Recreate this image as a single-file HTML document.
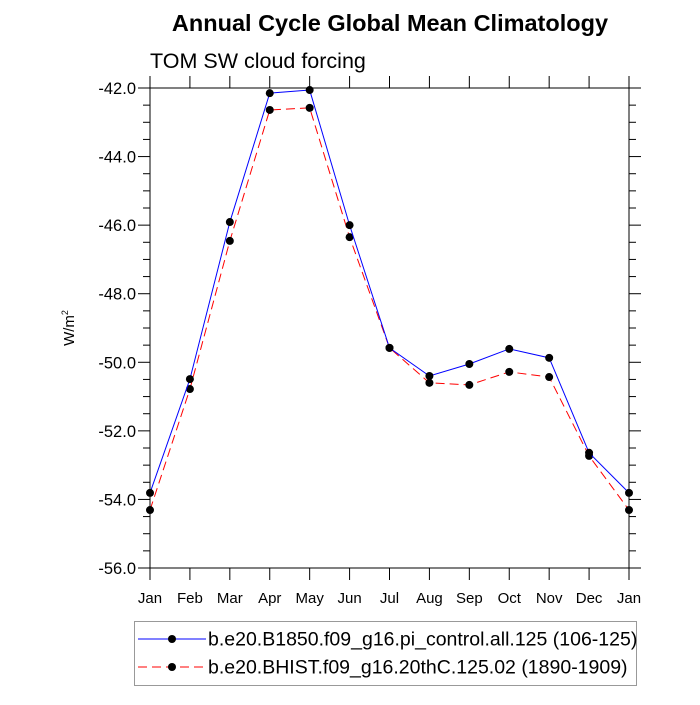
<!DOCTYPE html>
<html><head><meta charset="utf-8"><style>
body{margin:0;background:#fff}
svg text{font-family:"Liberation Sans",sans-serif}
</style></head><body>
<svg id="chart" width="700" height="700" xmlns="http://www.w3.org/2000/svg">
<rect width="700" height="700" fill="#fff"/>
<text x="390" y="31" text-anchor="middle" font-size="23.5" font-weight="bold">Annual Cycle Global Mean Climatology</text>
<text x="150" y="68" font-size="21.5">TOM SW cloud forcing</text>
<text transform="translate(74,328) rotate(-90)" text-anchor="middle" font-size="15">W/m<tspan font-size="9" dy="-6">2</tspan></text>
<g id="axes"></g>
<g id="series"></g>
<g>
<rect x="134.5" y="621.5" width="502" height="64" fill="#fff" stroke="#999" stroke-width="1"/>
<line x1="138" y1="639" x2="206" y2="639" stroke="#0000ff" stroke-width="1"/>
<circle cx="172" cy="639" r="4" fill="#000"/>
<text x="208" y="645.5" font-size="19.5">b.e20.B1850.f09_g16.pi_control.all.125 (106-125)</text>
<line x1="138" y1="667" x2="206" y2="667" stroke="#ff0000" stroke-width="1" stroke-dasharray="9,5"/>
<circle cx="172" cy="667" r="4" fill="#000"/>
<text x="208" y="673.5" font-size="19.5">b.e20.BHIST.f09_g16.20thC.125.02 (1890-1909)</text>
</g>
</svg>
<script>
const months = ["Jan","Feb","Mar","Apr","May","Jun","Jul","Aug","Sep","Oct","Nov","Dec","Jan"];
const controlValues = [-53.81,-50.49,-45.91,-42.15,-42.06,-46.0,-49.58,-50.40,-50.05,-49.61,-49.87,-52.64,-53.81];
const histValues = [-54.31,-50.78,-46.46,-42.64,-42.58,-46.35,-49.58,-50.60,-50.66,-50.28,-50.43,-52.73,-54.31];
const yTicks = [-42,-44,-46,-48,-50,-52,-54,-56];
const yTickLabels = ["-42.0","-44.0","-46.0","-48.0","-50.0","-52.0","-54.0","-56.0"];

const NS="http://www.w3.org/2000/svg";
const L=150,R=629,T=88,B=568,YMAX=-42,YMIN=-56;
const xs=i=>L+(R-L)*i/(months.length-1);
const ys=v=>T+(YMAX-v)/(YMAX-YMIN)*(B-T);
function mk(tag,attrs,parent){const e=document.createElementNS(NS,tag);for(const k in attrs)e.setAttribute(k,attrs[k]);parent.appendChild(e);return e;}
const ax=document.getElementById('axes');
const frame=mk('rect',{x:L,y:T,width:R-L,height:B-T,fill:'none',stroke:'#000','stroke-width':1},ax);


for(let v=YMAX;v>=YMIN-0.001;v-=0.5){
  const y=ys(v);const major=Math.abs(v/2-Math.round(v/2))<0.01;const len=major?12:7;
  mk('line',{x1:L-len,y1:y,x2:L,y2:y,stroke:'#000'},ax);
  mk('line',{x1:R,y1:y,x2:R+len,y2:y,stroke:'#000'},ax);
}
yTicks.forEach((v,i)=>{
  const t=mk('text',{x:L-14,y:ys(v)+6,'text-anchor':'end','font-size':16.5},ax);
  t.textContent=yTickLabels[i];
  
  
});
months.forEach((m,i)=>{
  const x=xs(i);
  mk('line',{x1:x,y1:B,x2:x,y2:B+12,stroke:'#000'},ax);
  mk('line',{x1:x,y1:T-12,x2:x,y2:T,stroke:'#000'},ax);
  const t=mk('text',{x:x,y:B+35,'text-anchor':'middle','font-size':15},ax);
  t.textContent=m;
  
  
});
const sg=document.getElementById('series');
function series(vals,color,dash,name){
  const g=mk('g',{},sg);
  
  
  const p=mk('polyline',{points:vals.map((v,i)=>xs(i)+','+ys(v)).join(' '),fill:'none',stroke:color,'stroke-width':1},g);
  if(dash)p.setAttribute('stroke-dasharray',dash);
  vals.forEach((v,i)=>{
    const c=mk('circle',{cx:xs(i),cy:ys(v),r:4,fill:'#000'},g);
    
    
  });
}
series(histValues,'#ff0000','9,5','series-bhist');
series(controlValues,'#0000ff',null,'series-b1850');
</script>
</body></html>
